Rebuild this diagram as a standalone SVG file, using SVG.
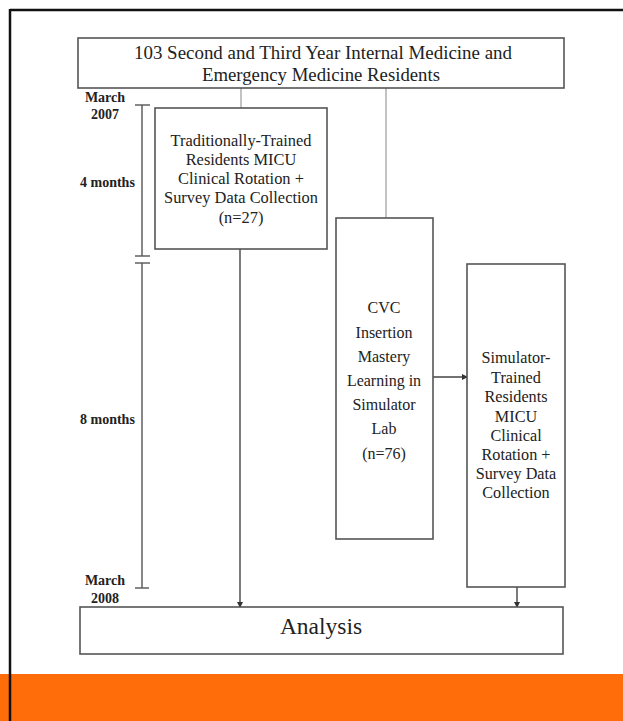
<svg xmlns="http://www.w3.org/2000/svg" width="623" height="721" viewBox="0 0 623 721">
<style>
.box{fill:#fff;stroke:#555;stroke-width:1.6}
.t{font-family:"Liberation Serif","Times New Roman",serif;fill:#222;text-anchor:middle}
.lab{font-family:"Liberation Serif","Times New Roman",serif;fill:#222;font-size:14px;font-weight:bold}
.c{stroke:#444;stroke-width:1.4;fill:none}
.g{stroke:#aaa;stroke-width:1.4;fill:none}
.tl{stroke:#555;stroke-width:1.4;fill:none}
</style>
<defs>
<marker id="ah" markerWidth="6" markerHeight="6" refX="5" refY="3" orient="auto" markerUnits="userSpaceOnUse">
<path d="M0,0 L6,3 L0,6 z" fill="#333"/>
</marker>
</defs>
<rect x="0" y="0" width="623" height="721" fill="#fff"/>
<rect x="0" y="674" width="623" height="47" fill="#FF6D0A"/>
<line x1="10" y1="10" x2="623" y2="10" stroke="#111" stroke-width="2.5"/>
<line x1="10" y1="9" x2="10" y2="721" stroke="#111" stroke-width="2.5"/>

<g id="timeline">
<text class="lab" x="105" y="102" text-anchor="middle">March</text>
<text class="lab" x="105" y="119" text-anchor="middle">2007</text>
<text class="lab" x="80" y="187">4 months</text>
<text class="lab" x="80" y="424">8 months</text>
<text class="lab" x="105" y="585" text-anchor="middle">March</text>
<text class="lab" x="105" y="603" text-anchor="middle">2008</text>
<line class="tl" x1="142" y1="105" x2="142" y2="256"/>
<line class="tl" x1="135" y1="105" x2="150" y2="105"/>
<line class="tl" x1="135" y1="256" x2="150" y2="256"/>
<line class="tl" x1="135" y1="263" x2="150" y2="263"/>
<line class="tl" x1="142" y1="263" x2="142" y2="588"/>
<line class="tl" x1="135" y1="588" x2="149" y2="588"/>
</g>

<g id="connectors">
<line class="g" x1="241" y1="88" x2="241" y2="108"/>
<line class="g" x1="386" y1="88" x2="386" y2="218"/>
<line class="c" x1="240" y1="249" x2="240" y2="607" marker-end="url(#ah)"/>
<line class="c" x1="433" y1="377" x2="467" y2="377" marker-end="url(#ah)"/>
<line class="c" x1="517" y1="587" x2="517" y2="607" marker-end="url(#ah)"/>
</g>

<g id="top">
<rect class="box" x="78" y="38" width="486" height="50"/>
<text class="t" x="323" y="59" font-size="19" textLength="378" lengthAdjust="spacingAndGlyphs">103 Second and Third Year Internal Medicine and</text>
<text class="t" x="321" y="81" font-size="19" textLength="238" lengthAdjust="spacingAndGlyphs">Emergency Medicine Residents</text>
</g>

<g id="traditional">
<rect class="box" x="155" y="108" width="172" height="141"/>
<text class="t" font-size="16.4" x="241"><tspan x="241" y="146">Traditionally-Trained</tspan><tspan x="241" y="165">Residents MICU</tspan><tspan x="241" y="184">Clinical Rotation +</tspan><tspan x="241" y="203">Survey Data Collection</tspan><tspan x="241" y="223">(n=27)</tspan></text>
</g>

<g id="cvc">
<rect class="box" x="336" y="218" width="97" height="321"/>
<text class="t" font-size="16" x="384"><tspan x="384" y="313">CVC</tspan><tspan x="384" y="338">Insertion</tspan><tspan x="384" y="362">Mastery</tspan><tspan x="384" y="386">Learning in</tspan><tspan x="384" y="410">Simulator</tspan><tspan x="384" y="434">Lab</tspan><tspan x="384" y="459">(n=76)</tspan></text>
</g>

<g id="simulator">
<rect class="box" x="467" y="264" width="98" height="323"/>
<text class="t" font-size="16.2" x="516"><tspan x="516" y="363">Simulator-</tspan><tspan x="516" y="383">Trained</tspan><tspan x="516" y="402">Residents</tspan><tspan x="516" y="422">MICU</tspan><tspan x="516" y="441">Clinical</tspan><tspan x="516" y="460">Rotation +</tspan><tspan x="516" y="479">Survey Data</tspan><tspan x="516" y="498">Collection</tspan></text>
</g>

<g id="analysis">
<rect class="box" x="80" y="607" width="483" height="47"/>
<text class="t" x="321" y="634" font-size="23.5">Analysis</text>
</g>
</svg>
